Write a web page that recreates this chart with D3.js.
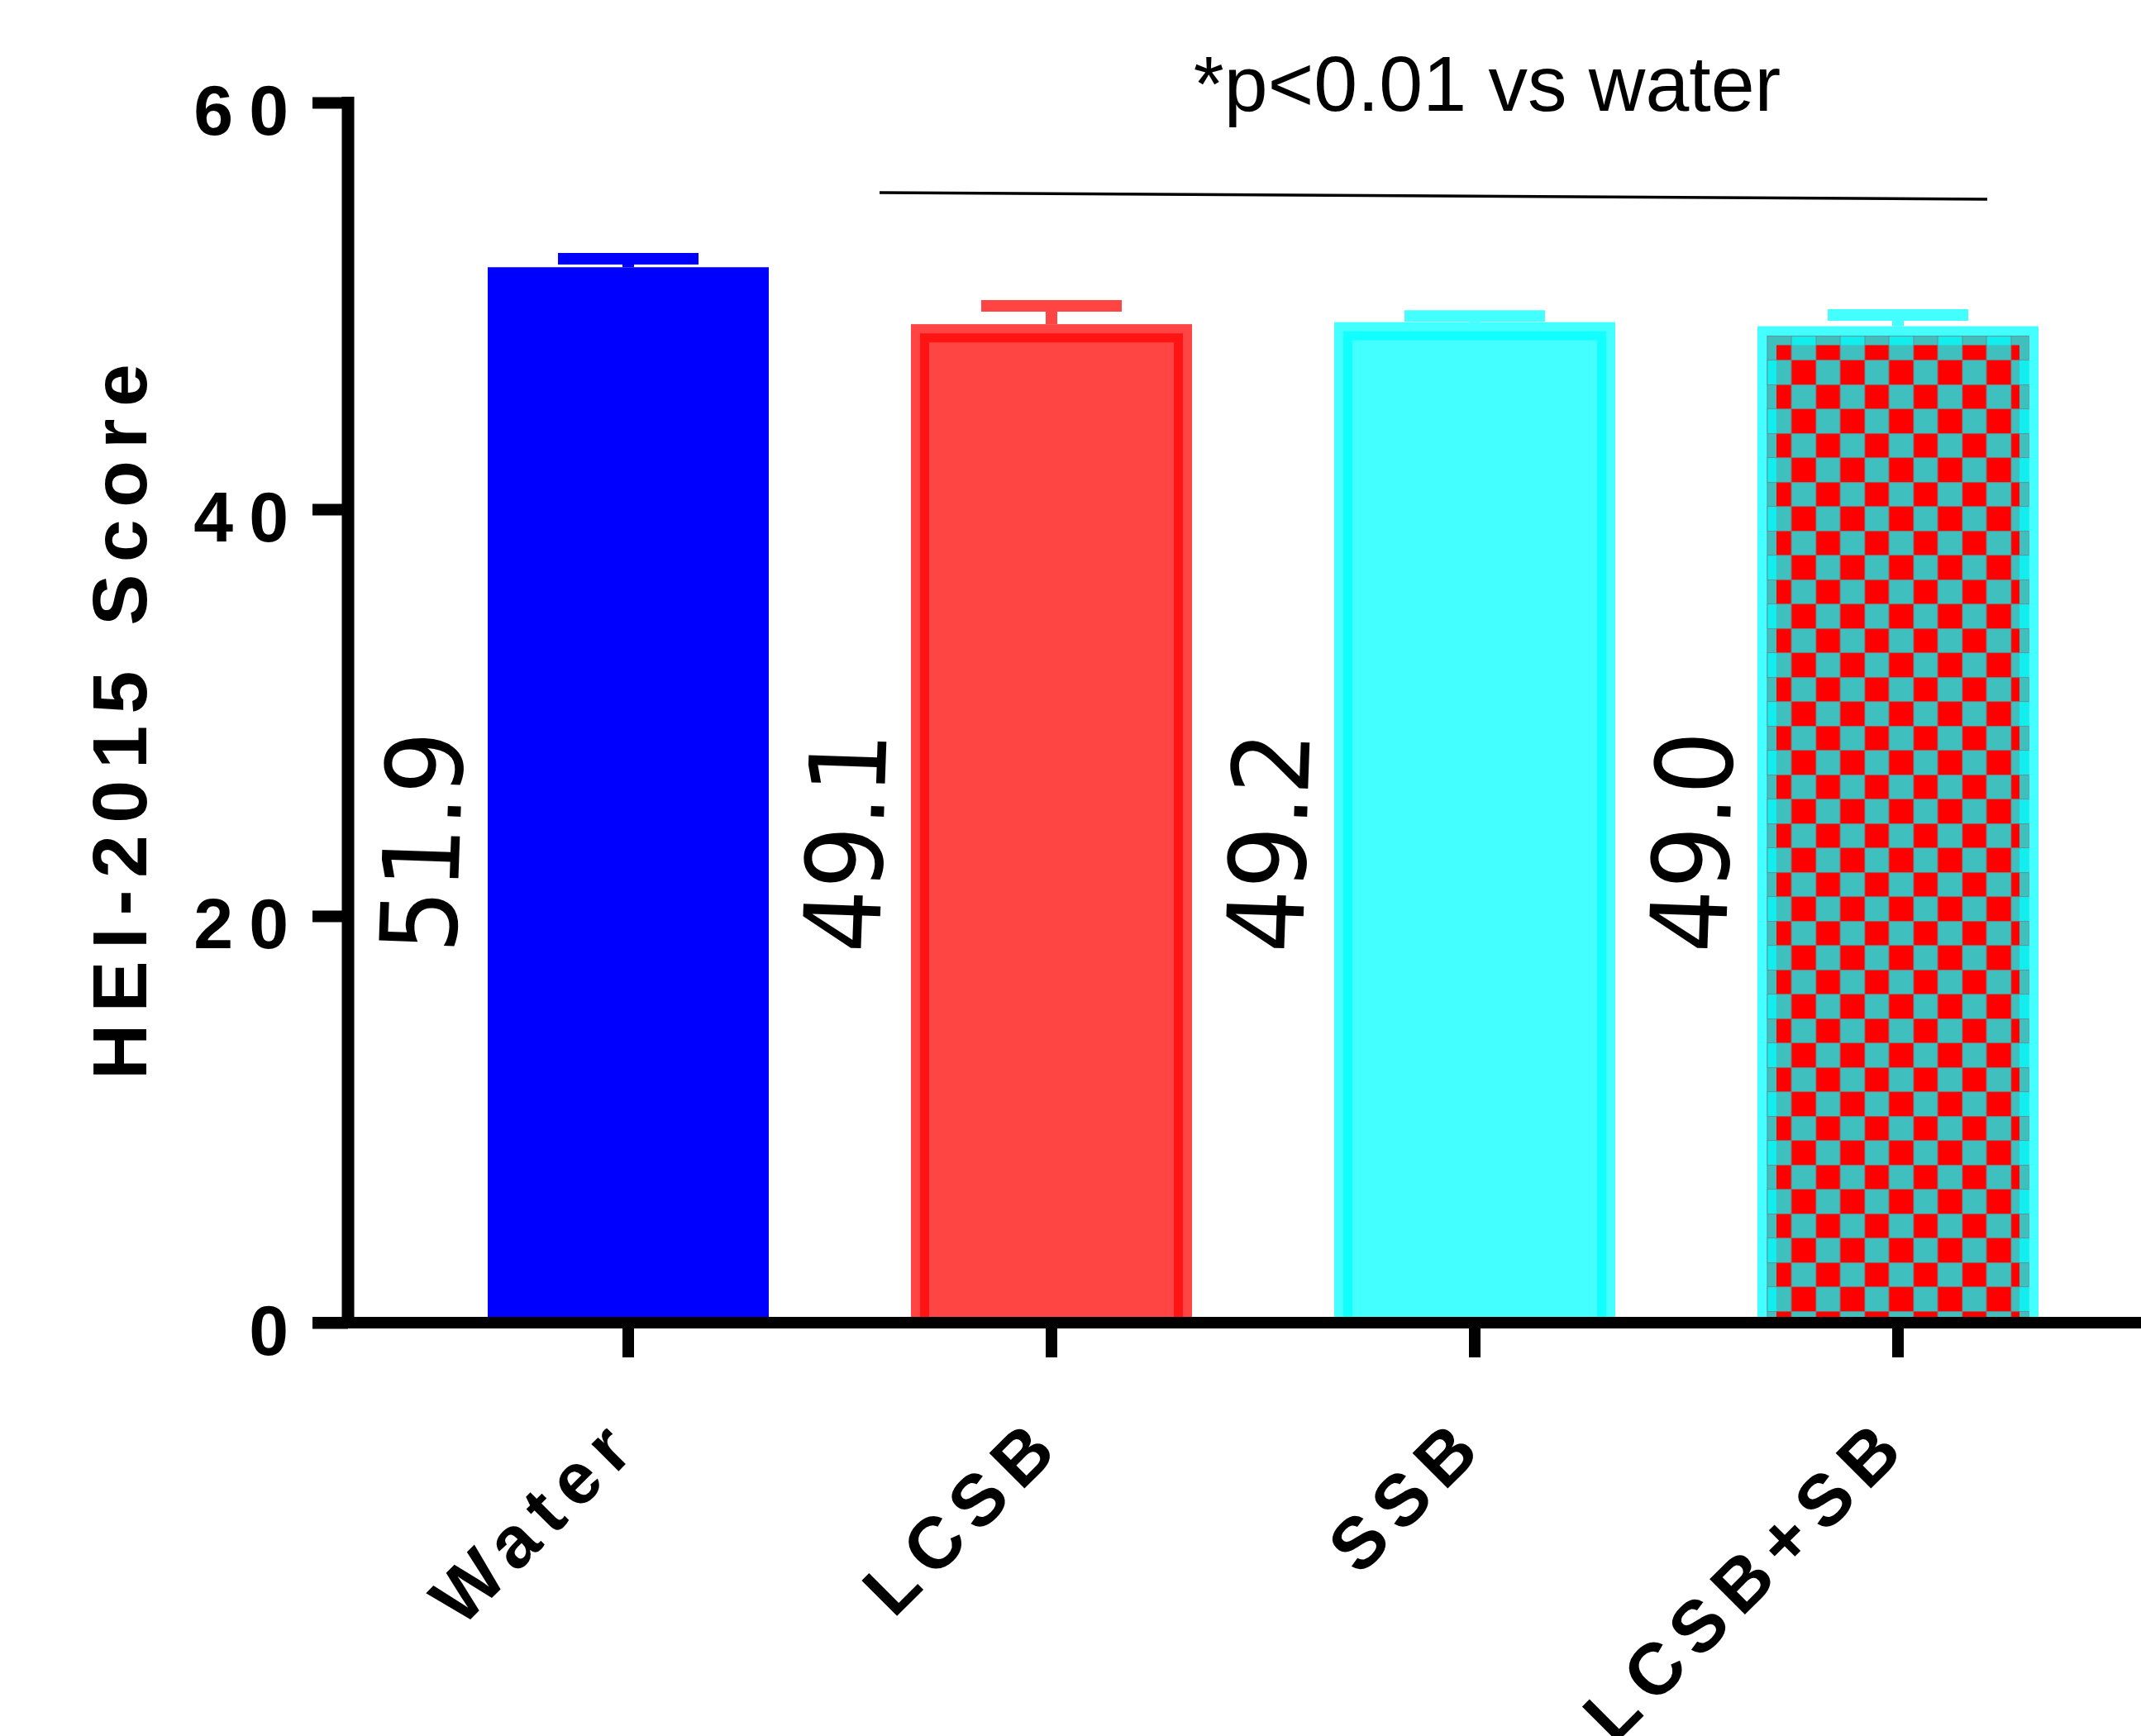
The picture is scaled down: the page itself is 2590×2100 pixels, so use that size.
<!DOCTYPE html>
<html>
<head>
<meta charset="utf-8">
<script src="https://cdn.jsdelivr.net/npm/d3@7"></script>
<style>
  html, body { margin: 0; padding: 0; background: #ffffff; }
  svg { display: block; }
</style>
</head>
<body>
<div id="chart"></div>
<script>
// ---------------- data ----------------
const categories = ["Water", "LCSB", "SSB", "LCSB+SB"];
const means = [51.9, 49.1, 49.2, 49.0];
const sems = [0.42, 0.9, 0.3, 0.55];
const yTicks = [0, 20, 40, 60];
const yTitle = "HEI-2015 Score";
const annotationText = "*p<0.01 vs water";

// ---------------- styles ----------------
const barFill = { "Water": "#0000FF", "LCSB": "#FF4444", "SSB": "#44FFFF", "LCSB+SB": "#44FFFF" };
const bandColor = { "LCSB": "#FF1414", "SSB": "#12FFFF", "LCSB+SB": "url(#checkerBand)" };
const errColor = { "Water": "#0000FF", "LCSB": "#FF4444", "SSB": "#44FFFF", "LCSB+SB": "#44FFFF" };

const W = 2590, H = 2100;
const svg = d3.select("#chart").append("svg")
  .attr("width", W).attr("height", H)
  .style("background", "#ffffff");

const x = d3.scaleBand().domain(categories)
  .range([504, 2552]).paddingInner(0.336).paddingOuter(0.168);
const y = d3.scaleLinear().domain([0, 60]).range([1600, 124]);
const bw = x.bandwidth();

// ---------------- patterns ----------------
const defs = svg.append("defs");
const cell = 29.5;
const chkX = x("LCSB+SB") + 11.5, chkY = y(means[3]) + 11.5;
function makeChecker(id, colA, colB) {
  const p = defs.append("pattern").attr("id", id)
    .attr("patternUnits", "userSpaceOnUse")
    .attr("x", chkX).attr("y", chkY)
    .attr("width", cell * 2).attr("height", cell * 2);
  p.append("rect").attr("width", cell * 2).attr("height", cell * 2).attr("fill", colB);
  p.append("rect").attr("x", 0).attr("y", 0).attr("width", cell).attr("height", cell).attr("fill", colA);
  p.append("rect").attr("x", cell).attr("y", cell).attr("width", cell).attr("height", cell).attr("fill", colA);
  [0, cell].forEach(v => {
    p.append("line").attr("x1", v).attr("x2", v).attr("y1", 0).attr("y2", cell * 2)
      .attr("stroke", "#7a7a7a").attr("stroke-width", v === 0 ? 2 : 1.2).attr("stroke-opacity", 0.7);
    p.append("line").attr("y1", v).attr("y2", v).attr("x1", 0).attr("x2", cell * 2)
      .attr("stroke", "#7a7a7a").attr("stroke-width", v === 0 ? 2 : 1.2).attr("stroke-opacity", 0.7);
  });
}
makeChecker("checker", "#FF0000", "#40BFBF");
makeChecker("checkerBand", "#40BFBF", "#12EDED");

// ---------------- bars ----------------
const gBars = svg.append("g");
categories.forEach((c, i) => {
  const x0 = x(c), top = y(means[i]), bottom = y(0);
  gBars.append("rect")
    .attr("x", x0).attr("y", top).attr("width", bw).attr("height", bottom - top)
    .attr("fill", barFill[c]);
  if (c === "LCSB+SB") {
    gBars.append("rect")
      .attr("x", x0 + 11.5).attr("y", top + 11.5)
      .attr("width", bw - 23).attr("height", bottom - top - 11.5)
      .attr("fill", "url(#checker)");
  }
  if (bandColor[c]) {
    const ins = c === "LCSB+SB" ? 17.25 : 16.5;
    const sw = c === "LCSB+SB" ? 11.5 : 11;
    const path = d3.path();
    path.moveTo(x0 + ins, bottom);
    path.lineTo(x0 + ins, top + ins);
    path.lineTo(x0 + bw - ins, top + ins);
    path.lineTo(x0 + bw - ins, bottom);
    gBars.append("path").attr("d", path.toString())
      .attr("fill", "none").attr("stroke", bandColor[c])
      .attr("stroke-width", sw).attr("stroke-linejoin", "miter");
  }
});

// ---------------- error bars ----------------
const gErr = svg.append("g");
categories.forEach((c, i) => {
  const cx = x(c) + bw / 2;
  const yTop = y(means[i] + sems[i]);
  gErr.append("line").attr("x1", cx).attr("x2", cx)
    .attr("y1", yTop).attr("y2", y(means[i]))
    .attr("stroke", errColor[c]).attr("stroke-width", 14);
  gErr.append("line").attr("x1", cx - bw / 4).attr("x2", cx + bw / 4)
    .attr("y1", yTop).attr("y2", yTop)
    .attr("stroke", errColor[c]).attr("stroke-width", 14);
});

// ---------------- value labels ----------------
const gVal = svg.append("g");
categories.forEach((c, i) => {
  gVal.append("text")
    .attr("transform", `translate(${x(c) - 34},1020) rotate(-88) scale(0.94,1)`)
    .attr("text-anchor", "middle")
    .attr("font-family", "'DejaVu Sans', sans-serif")
    .attr("font-size", 128)
    .attr("fill", "#000")
    .text(d3.format(".1f")(means[i]));
});

// ---------------- axes ----------------
const axisX = 421;
const yAxis = d3.axisLeft(y).tickValues(yTicks).tickSize(43).tickPadding(10)
  .tickFormat(d3.format("d"));
const gy = svg.append("g").attr("transform", `translate(${axisX},0)`).call(yAxis);
gy.select(".domain").remove();
gy.selectAll(".tick line").attr("stroke", "#000").attr("stroke-width", 14);
gy.selectAll(".tick text")
  .attr("fill", "#000")
  .attr("font-family", "'Liberation Sans', Arial, sans-serif")
  .attr("font-weight", "bold")
  .attr("font-size", 86)
  .attr("letter-spacing", 19)
  .attr("dy", null)
  .attr("y", 38);

const xAxis = d3.axisBottom(x).tickSize(42).tickFormat("");
const gx = svg.append("g").attr("transform", `translate(0,${y(0)})`).call(xAxis);
gx.select(".domain").remove();
gx.selectAll(".tick line").attr("stroke", "#000").attr("stroke-width", 14);

// axis lines
svg.append("line").attr("x1", 378).attr("x2", W)
  .attr("y1", y(0)).attr("y2", y(0))
  .attr("stroke", "#000").attr("stroke-width", 14);
svg.append("line").attr("x1", axisX).attr("x2", axisX)
  .attr("y1", y(60) - 7).attr("y2", y(0) + 7)
  .attr("stroke", "#000").attr("stroke-width", 15);

// x category labels
const gxl = svg.append("g");
categories.forEach(c => {
  gxl.append("text")
    .attr("transform", `translate(${x(c) + bw / 2 + 18},${y(0) + 150}) rotate(-45)`)
    .attr("text-anchor", "end")
    .attr("font-family", "'Liberation Sans', Arial, sans-serif")
    .attr("font-weight", "bold")
    .attr("font-size", 88)
    .attr("letter-spacing", 14)
    .attr("fill", "#000")
    .text(c);
});

// y title
svg.append("text")
  .attr("transform", "translate(177,866) rotate(-90)")
  .attr("text-anchor", "middle")
  .attr("font-family", "'Liberation Sans', Arial, sans-serif")
  .attr("font-weight", "bold")
  .attr("font-size", 93)
  .attr("letter-spacing", 14.5)
  .attr("fill", "#000")
  .text(yTitle);

// significance annotation
svg.append("line")
  .attr("x1", x("LCSB") - 38).attr("y1", 233)
  .attr("x2", x("LCSB+SB") + bw - 62).attr("y2", 241)
  .attr("stroke", "#000").attr("stroke-width", 3.5);
svg.append("text")
  .attr("x", 1799).attr("y", 134)
  .attr("text-anchor", "middle")
  .attr("font-family", "'Liberation Sans', Arial, sans-serif")
  .attr("font-size", 95)
  .attr("fill", "#000")
  .text(annotationText);
</script>
</body>
</html>
